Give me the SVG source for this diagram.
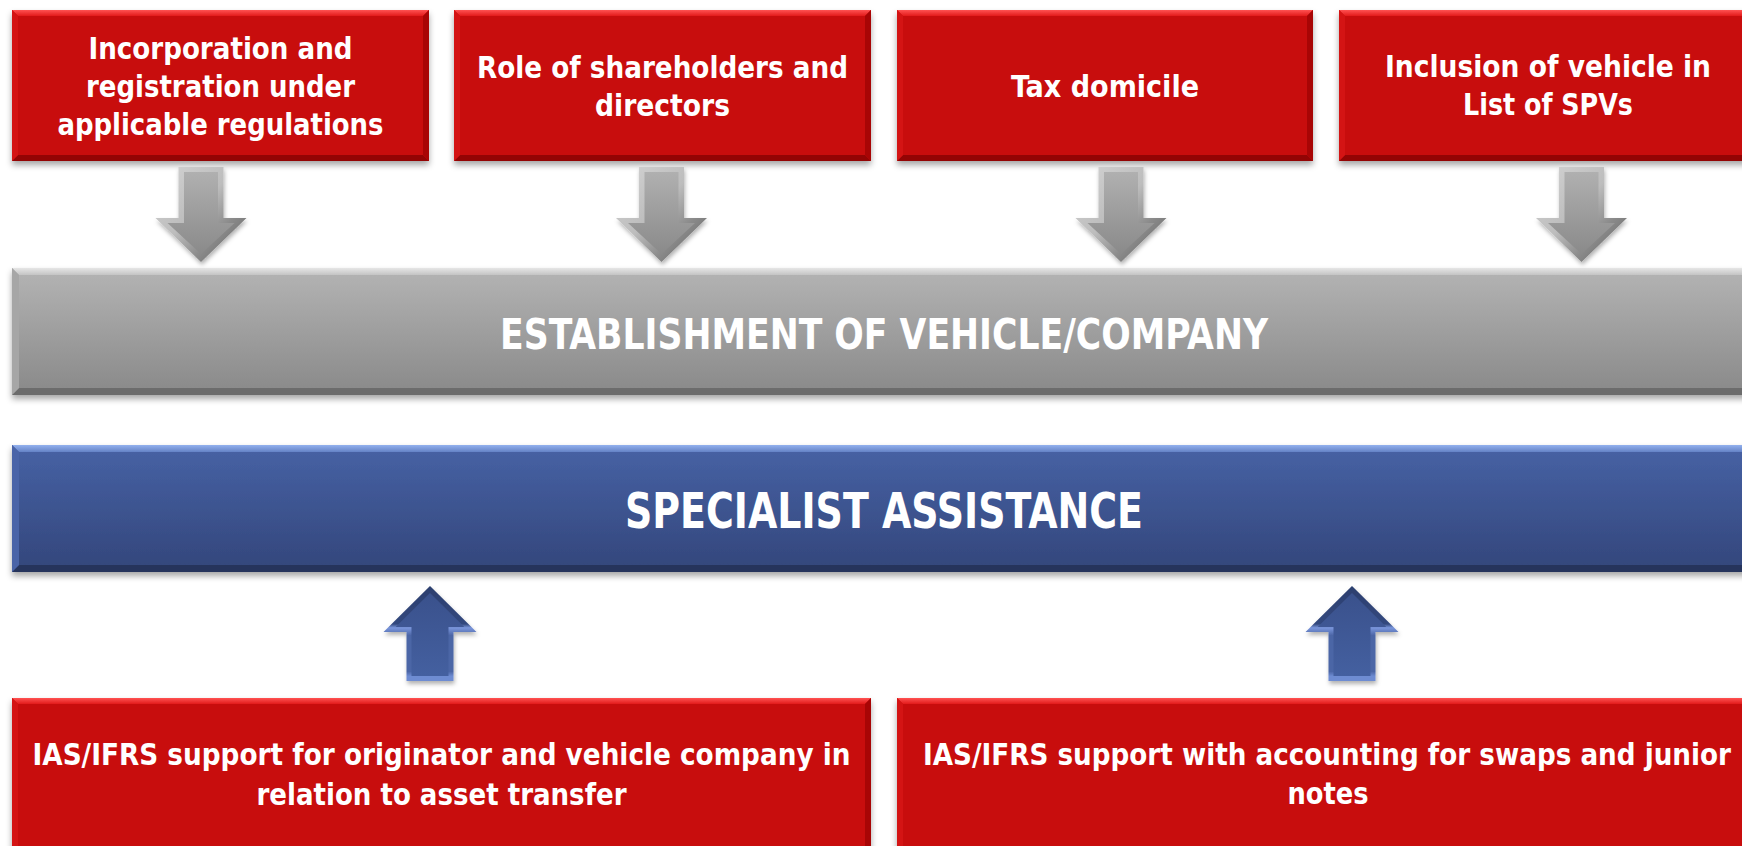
<svg xmlns="http://www.w3.org/2000/svg" width="1742" height="846" viewBox="0 0 1742 846">
<defs>
  <filter id="shadow" x="-5%" y="-20%" width="110%" height="150%">
    <feDropShadow dx="0" dy="4" stdDeviation="3" flood-color="#000" flood-opacity="0.35"/>
  </filter>
  <filter id="ashadow" x="-30%" y="-20%" width="160%" height="150%">
    <feDropShadow dx="1" dy="3" stdDeviation="2" flood-color="#000" flood-opacity="0.3"/>
  </filter>
  <linearGradient id="redTop" x1="0" y1="0" x2="0" y2="1">
    <stop offset="0" stop-color="#FF5252"/><stop offset="1" stop-color="#E21A1A"/>
  </linearGradient>
  <linearGradient id="grayFill" x1="0" y1="0" x2="0" y2="1">
    <stop offset="0" stop-color="#B4B4B4"/><stop offset="1" stop-color="#898989"/>
  </linearGradient>
  <linearGradient id="grayTop" x1="0" y1="0" x2="0" y2="1">
    <stop offset="0" stop-color="#E6E6E6"/><stop offset="1" stop-color="#C4C4C4"/>
  </linearGradient>
  <linearGradient id="blueFill" x1="0" y1="0" x2="0" y2="1">
    <stop offset="0" stop-color="#4762A5"/><stop offset="1" stop-color="#33467B"/>
  </linearGradient>
  <linearGradient id="blueTop" x1="0" y1="0" x2="0" y2="1">
    <stop offset="0" stop-color="#93B1EE"/><stop offset="1" stop-color="#6482C6"/>
  </linearGradient>
  <linearGradient id="gArrowEdge" x1="0" y1="0" x2="1" y2="1">
    <stop offset="0" stop-color="#D4D4D4"/><stop offset="0.45" stop-color="#BDBDBD"/>
    <stop offset="0.7" stop-color="#8A8A8A"/><stop offset="1" stop-color="#5E5E5E"/>
  </linearGradient>
  <linearGradient id="gArrowFill" x1="0" y1="0" x2="0" y2="1">
    <stop offset="0" stop-color="#B0B0B0"/><stop offset="1" stop-color="#8A8A8A"/>
  </linearGradient>
  <linearGradient id="bArrowEdge" x1="0" y1="0" x2="0" y2="1">
    <stop offset="0" stop-color="#2C3F6E"/><stop offset="0.4" stop-color="#33487E"/>
    <stop offset="0.44" stop-color="#7A96DC"/><stop offset="0.52" stop-color="#4C66A6"/>
    <stop offset="0.9" stop-color="#4C66A6"/><stop offset="0.95" stop-color="#6E8CD2"/>
    <stop offset="1" stop-color="#6E8CD2"/>
  </linearGradient>
  <linearGradient id="bArrowFill" x1="0" y1="0" x2="0" y2="1">
    <stop offset="0" stop-color="#3A518C"/><stop offset="1" stop-color="#4460A0"/>
  </linearGradient>
  <g id="downArrow">
    <path d="M-22.5,167 H22.5 V218 H45.5 L0,262 L-45.5,218 H-22.5 Z" fill="url(#gArrowEdge)" filter="url(#ashadow)"/>
    <path d="M-17,172 H17 V223 H33.5 L0,254 L-33.5,223 H-17 Z" fill="url(#gArrowFill)"/>
  </g>
  <g id="upArrow">
    <path d="M0,586 L46.5,632 H23.5 V681 H-23.5 V632 H-46.5 Z" fill="url(#bArrowEdge)" filter="url(#ashadow)"/>
    <path d="M0,593 L34.3,627 H18.5 V676 H-18.5 V627 H-34.3 Z" fill="url(#bArrowFill)"/>
  </g>
</defs>
<style>
  .red { fill: #C80707; }
  .rTop { fill: url(#redTop); }
  .rLeft { fill: #D41414; }
  .rRight { fill: #A80505; }
  .rBot { fill: #930404; }
  .gTop { fill: url(#grayTop); }
  .gLeft { fill: #A6A6A6; }
  .gBot { fill: #6C6C6C; }
  .bTop { fill: url(#blueTop); }
  .bLeft { fill: #4A64A8; }
  .bBot { fill: #26345C; }
  text { font-family: "DejaVu Sans Condensed", "DejaVu Sans", "Liberation Sans", sans-serif; font-weight: bold; fill: #FFFFFF; text-anchor: middle; }
  .t { font-size: 31px; }
  .big1 { font-size: 42px; }
  .big2 { font-size: 49px; }
</style>
<rect width="1742" height="846" fill="#FFFFFF"/>

<g id="node-incorporation">
  <rect class="red" x="12" y="10" width="417" height="151" filter="url(#shadow)"/>
  <polygon class="rTop" points="12,10 429,10 423,16 18,16"/>
  <polygon class="rBot" points="12,161 429,161 423,155 18,155"/>
  <polygon class="rLeft" points="12,10 18,16 18,155 12,161"/>
  <polygon class="rRight" points="429,10 423,16 423,155 429,161"/>
  <text class="t" x="220.5" y="59" textLength="264" lengthAdjust="spacingAndGlyphs">Incorporation and</text>
  <text class="t" x="220.5" y="97" textLength="269" lengthAdjust="spacingAndGlyphs">registration under</text>
  <text class="t" x="220.5" y="135" textLength="326" lengthAdjust="spacingAndGlyphs">applicable regulations</text>
</g>

<g id="node-shareholders">
  <rect class="red" x="454" y="10" width="417" height="151" filter="url(#shadow)"/>
  <polygon class="rTop" points="454,10 871,10 865,16 460,16"/>
  <polygon class="rBot" points="454,161 871,161 865,155 460,155"/>
  <polygon class="rLeft" points="454,10 460,16 460,155 454,161"/>
  <polygon class="rRight" points="871,10 865,16 865,155 871,161"/>
  <text class="t" x="662.5" y="78" textLength="371" lengthAdjust="spacingAndGlyphs">Role of shareholders and</text>
  <text class="t" x="662.5" y="116" textLength="135" lengthAdjust="spacingAndGlyphs">directors</text>
</g>

<g id="node-tax">
  <rect class="red" x="897" y="10" width="416" height="151" filter="url(#shadow)"/>
  <polygon class="rTop" points="897,10 1313,10 1307,16 903,16"/>
  <polygon class="rBot" points="897,161 1313,161 1307,155 903,155"/>
  <polygon class="rLeft" points="897,10 903,16 903,155 897,161"/>
  <polygon class="rRight" points="1313,10 1307,16 1307,155 1313,161"/>
  <text class="t" x="1105" y="97" textLength="188" lengthAdjust="spacingAndGlyphs">Tax domicile</text>
</g>

<g id="node-inclusion">
  <rect class="red" x="1339" y="10" width="417" height="151" filter="url(#shadow)"/>
  <polygon class="rTop" points="1339,10 1756,10 1750,16 1345,16"/>
  <polygon class="rBot" points="1339,161 1756,161 1750,155 1345,155"/>
  <polygon class="rLeft" points="1339,10 1345,16 1345,155 1339,161"/>
  <polygon class="rRight" points="1756,10 1750,16 1750,155 1756,161"/>
  <text class="t" x="1548" y="77" textLength="326" lengthAdjust="spacingAndGlyphs">Inclusion of vehicle in</text>
  <text class="t" x="1548" y="115" textLength="170" lengthAdjust="spacingAndGlyphs">List of SPVs</text>
</g>

<g id="node-establishment">
  <rect x="12" y="268" width="1750" height="127" fill="url(#grayFill)" filter="url(#shadow)"/>
  <polygon class="gTop" points="12,268 1762,268 1755,275 19,275"/>
  <polygon class="gBot" points="12,395 1762,395 1755,388 19,388"/>
  <polygon class="gLeft" points="12,268 19,275 19,388 12,395"/>
  <text class="big1" x="884" y="349" textLength="768" lengthAdjust="spacingAndGlyphs">ESTABLISHMENT OF VEHICLE/COMPANY</text>
</g>

<g id="node-specialist">
  <rect x="12" y="445" width="1750" height="127" fill="url(#blueFill)" filter="url(#shadow)"/>
  <polygon class="bTop" points="12,445 1762,445 1755,452 19,452"/>
  <polygon class="bBot" points="12,572 1762,572 1755,565 19,565"/>
  <polygon class="bLeft" points="12,445 19,452 19,565 12,572"/>
  <text class="big2" x="884" y="528" textLength="518" lengthAdjust="spacingAndGlyphs">SPECIALIST ASSISTANCE</text>
</g>

<g id="node-ifrs-transfer">
  <rect class="red" x="12" y="698" width="859" height="160" filter="url(#shadow)"/>
  <polygon class="rTop" points="12,698 871,698 865,704 18,704"/>
  <polygon class="rLeft" points="12,698 18,704 18,852 12,858"/>
  <polygon class="rRight" points="871,698 865,704 865,852 871,858"/>
  <text class="t" x="441.5" y="765" textLength="818" lengthAdjust="spacingAndGlyphs">IAS/IFRS support for originator and vehicle company in</text>
  <text class="t" x="441.5" y="805" textLength="370" lengthAdjust="spacingAndGlyphs">relation to asset transfer</text>
</g>

<g id="node-ifrs-swaps">
  <rect class="red" x="897" y="698" width="860" height="160" filter="url(#shadow)"/>
  <polygon class="rTop" points="897,698 1757,698 1751,704 903,704"/>
  <polygon class="rLeft" points="897,698 903,704 903,852 897,858"/>
  <text class="t" x="1327" y="765" textLength="808" lengthAdjust="spacingAndGlyphs">IAS/IFRS support with accounting for swaps and junior</text>
  <text class="t" x="1328" y="804" textLength="81" lengthAdjust="spacingAndGlyphs">notes</text>
</g>

<g id="connectors">
  <use href="#downArrow" transform="translate(201,0)"/>
  <use href="#downArrow" transform="translate(661.5,0)"/>
  <use href="#downArrow" transform="translate(1121,0)"/>
  <use href="#downArrow" transform="translate(1581.5,0)"/>
  <use href="#upArrow" transform="translate(430,0)"/>
  <use href="#upArrow" transform="translate(1352,0)"/>
</g>
</svg>
